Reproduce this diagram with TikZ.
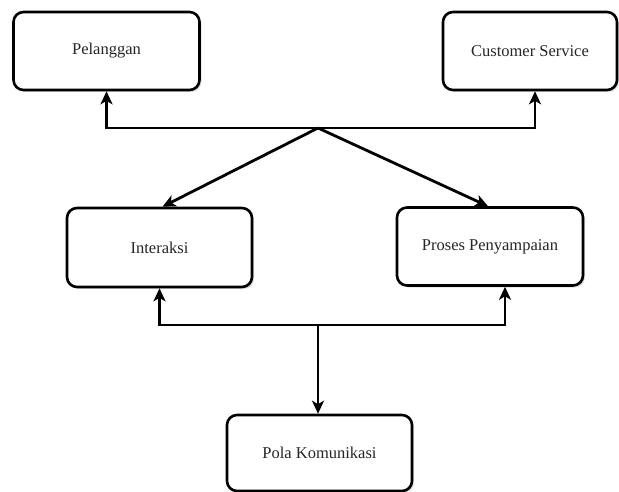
\documentclass[tikz,border=0pt]{standalone}
\usepackage{fontspec}
\setmainfont{Liberation Serif}
\usetikzlibrary{arrows.meta,shadows}

\begin{document}
\begin{tikzpicture}[x=1pt, y=-1pt,
        >={Stealth[length=13pt, width=12pt, inset=3.5pt]},
        box/.style={draw, line width=2.6pt, rounded corners=10pt, fill=white,
            minimum width=186pt, minimum height=78pt, inner sep=0pt,
            font=\fontsize{16.5}{19}\selectfont, text=black!85,
            drop shadow={opacity=0.25, shadow xshift=2pt, shadow yshift=-2pt}},
        link/.style={line width=2.8pt}]
        \useasboundingbox (0, 0) rectangle (619, 492);
        \node[box] (pel) at (106.5, 51) {Pelanggan};
        \node[box, minimum width=174pt] (cs) at (530, 51) {Customer Service};
        \node[box, minimum width=185pt, minimum height=79pt] (inter) at (159.5, 247.5) {Interaksi};
        \node[box] (proses) at (490, 246.5) {Proses Penyampaian};
        \node[box, minimum width=185pt, minimum height=76pt] (pola) at (319.5, 453) {Pola Komunikasi};
        \coordinate (top) at (318, 128);
        \coordinate (hub) at (318, 325);
        \draw[link, ->] (top) -| (pel.south);
        \draw[link, ->] (top) -| ([xshift=5pt]cs.south);
        \draw[link, ->] (top) -- ([xshift=3pt]inter.north);
        \draw[link, ->] (top) -- ([xshift=-2pt]proses.north);
        \draw[link, ->] (hub) -| (inter.south);
        \draw[link, ->] (hub) -| ([xshift=15pt]proses.south);
        \draw[link, ->] (hub) -- (hub |- pola.north);
\end{tikzpicture}
\end{document}
